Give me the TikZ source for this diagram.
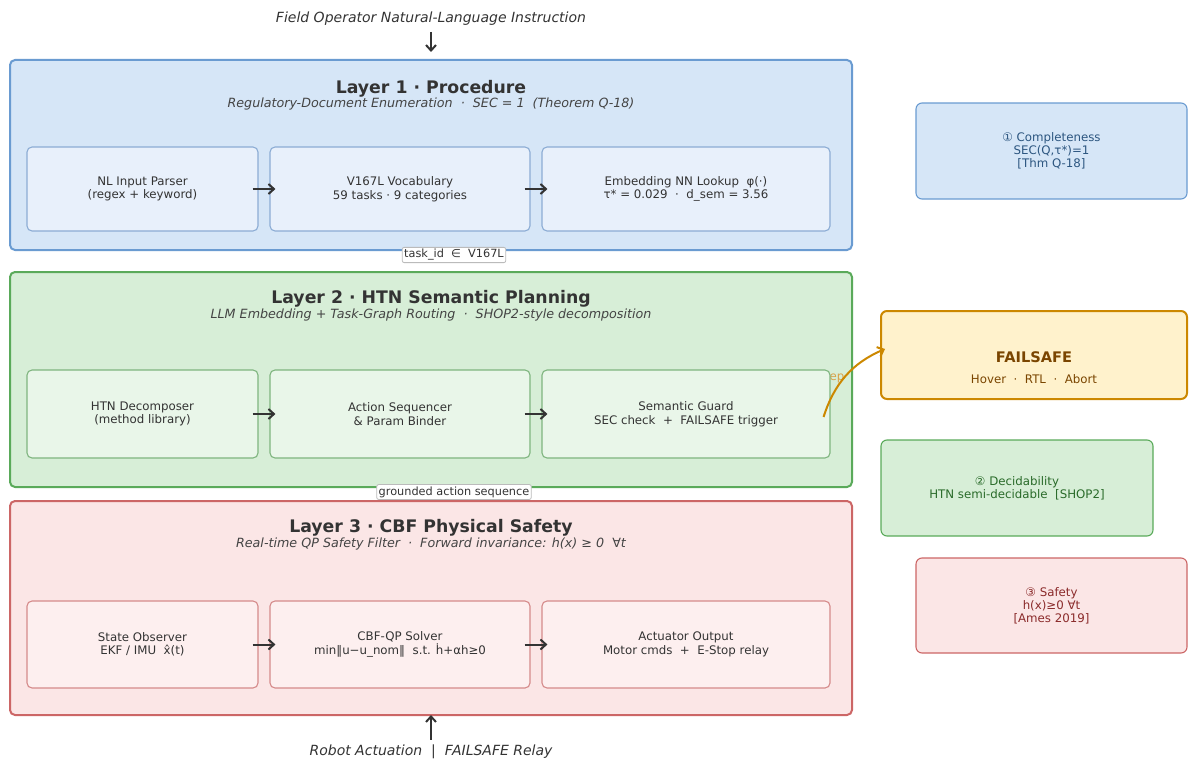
\documentclass[tikz,border=0pt]{standalone}
\usepackage{fontspec}
\setmainfont{DejaVu Sans}
\usetikzlibrary{arrows.meta}
\definecolor{dark}{HTML}{333333}
\definecolor{subc}{HTML}{444444}
\definecolor{Lafill}{HTML}{D6E6F7}\definecolor{Ladraw}{HTML}{6A9BD1}
\definecolor{Iafill}{HTML}{E8F0FB}\definecolor{Iadraw}{HTML}{8CACD4}
\definecolor{Lbfill}{HTML}{D7EED7}\definecolor{Lbdraw}{HTML}{5AAA5A}
\definecolor{Ibfill}{HTML}{E9F6E9}\definecolor{Ibdraw}{HTML}{7FB57F}
\definecolor{Lcfill}{HTML}{FBE6E6}\definecolor{Lcdraw}{HTML}{CC6666}
\definecolor{Icfill}{HTML}{FDEFEF}\definecolor{Icdraw}{HTML}{D58A8A}
\definecolor{Ffill}{HTML}{FFF2CC}\definecolor{Fdraw}{HTML}{CC8800}\definecolor{Ftext}{HTML}{7A4500}
\definecolor{Ctext}{HTML}{2C5680}\definecolor{Dtext}{HTML}{2A6B2A}\definecolor{Stext}{HTML}{8B2B2B}
\definecolor{lblgray}{HTML}{BBBBBB}
\definecolor{eporange}{HTML}{D9A24A}
\newcommand{\fsz}[1]{\fontsize{#1}{#1}\selectfont}
\tikzset{
  layerbox/.style={rectangle, rounded corners=5pt, line width=2pt, inner sep=0pt},
  innerbox/.style={rectangle, rounded corners=5pt, line width=1.1pt, inner sep=0pt, align=center,
     text=dark, font=\fontsize{11.8}{13.5}\selectfont},
  sidebox/.style={rectangle, rounded corners=6pt, line width=1.1pt, inner sep=0pt, align=center,
     font=\fontsize{11.8}{13}\selectfont},
  ltitle/.style={text=dark, font=\bfseries\fsz{17.3}, inner sep=0pt},
  lsub/.style={text=subc, font=\itshape\fsz{12.7}, inner sep=0pt},
  flowlbl/.style={fill=white, draw=lblgray, line width=0.8pt, rounded corners=2pt, inner sep=2pt,
     text=dark, font=\fsz{11.3}},
  tip/.style={-{Straight Barb[length=5.5pt,width=10pt,line width=2pt]}},
  arr/.style={draw=dark, line width=2pt, tip},
  outtext/.style={text=dark, font=\itshape\fsz{14}, inner sep=0pt},
}
\begin{document}
\begin{tikzpicture}[x=1pt,y=-1pt]
\useasboundingbox (0,0) rectangle (1189,760);

% top / bottom texts
\node[outtext] (ti) at (431,19) {Field Operator Natural-Language Instruction};
\node[outtext] (bo) at (431,752) {Robot Actuation \ |\ \ FAILSAFE Relay};

% Layer 1
\node[layerbox, fill=Lafill, draw=Ladraw, minimum width=842, minimum height=190] (L1) at (431,155) {};
\node[ltitle] (t1) at (431,89) {Layer 1 · Procedure};
\node[lsub] (s1) at (431,104) {Regulatory-Document Enumeration \ · \ SEC = 1 \ (Theorem Q-18)};
\node[innerbox, fill=Iafill, draw=Iadraw, minimum width=231, minimum height=84] (a1) at (142.5,189) {NL Input Parser\\(regex + keyword)};
\node[innerbox, fill=Iafill, draw=Iadraw, minimum width=260, minimum height=84] (a2) at (400,189) {V167L Vocabulary\\59 tasks · 9 categories};
\node[innerbox, fill=Iafill, draw=Iadraw, minimum width=288, minimum height=84] (a3) at (686,189) {Embedding NN Lookup \ φ(·)\\τ* = 0.029 \ · \ d\_sem = 3.56};

% Layer 2
\node[layerbox, fill=Lbfill, draw=Lbdraw, minimum width=842, minimum height=215] (L2) at (431,379.5) {};
\node[ltitle] (t2) at (431,299) {Layer 2 · HTN Semantic Planning};
\node[lsub] (s2) at (431,315) {LLM Embedding + Task-Graph Routing \ · \ SHOP2-style decomposition};
\node[text=eporange, font=\fsz{11.8}, inner sep=0pt] (ep) at (837,378) {ep};
\node[innerbox, fill=Ibfill, draw=Ibdraw, minimum width=231, minimum height=88] (b1) at (142.5,414) {HTN Decomposer\\(method library)};
\node[innerbox, fill=Ibfill, draw=Ibdraw, minimum width=260, minimum height=88] (b2) at (400,414) {Action Sequencer\\\& Param Binder};
\node[innerbox, fill=Ibfill, draw=Ibdraw, minimum width=288, minimum height=88] (b3) at (686,414) {Semantic Guard\\SEC check \ + \ FAILSAFE trigger};

% Layer 3
\node[layerbox, fill=Lcfill, draw=Lcdraw, minimum width=842, minimum height=214] (L3) at (431,608) {};
\node[ltitle] (t3) at (431,528) {Layer 3 · CBF Physical Safety};
\node[lsub] (s3) at (431,544) {Real-time QP Safety Filter \ · \ Forward invariance: h(x) ≥ 0 \ ∀t};
\node[innerbox, fill=Icfill, draw=Icdraw, minimum width=231, minimum height=87] (c1) at (142.5,644.5) {State Observer\\EKF / IMU \ x̂(t)};
\node[innerbox, fill=Icfill, draw=Icdraw, minimum width=260, minimum height=87] (c2) at (400,644.5) {CBF-QP Solver\\min‖u−u\_nom‖ \ s.t. ḣ+αh≥0};
\node[innerbox, fill=Icfill, draw=Icdraw, minimum width=288, minimum height=87] (c3) at (686,644.5) {Actuator Output\\Motor cmds \ + \ E-Stop relay};

% flow labels
\node[flowlbl] (f1) at (454,255) {task\_id \ ∈ \ V167L};
\node[flowlbl] (f2) at (454,492) {grounded action sequence};

% side boxes
\node[sidebox, fill=Lafill, draw=Ladraw, text=Ctext, minimum width=271, minimum height=96] (rc) at (1051.5,151) {① Completeness\\SEC(Q,τ*)=1\\{[Thm Q-18]}};
\node[sidebox, fill=Ffill, draw=Fdraw, line width=2pt, text=Ftext, minimum width=306, minimum height=88] (rf) at (1034,355) {};
\node[text=Ftext, font=\bfseries\fsz{14.6}, inner sep=0pt] (rft) at (1034,357) {FAILSAFE};
\node[text=Ftext, font=\fsz{11.8}, inner sep=0pt] (rfs) at (1034,379) {Hover \ · \ RTL \ · \ Abort};
\node[sidebox, fill=Lbfill, draw=Lbdraw, text=Dtext, minimum width=272, minimum height=96] (rd) at (1017,488) {② Decidability\\HTN semi-decidable \ [SHOP2]};
\node[sidebox, fill=Lcfill, draw=Lcdraw, text=Stext, minimum width=271, minimum height=95] (rs) at (1051.5,605.5) {③ Safety\\h(x)≥0 ∀t\\{[Ames 2019]}};

% arrows
\draw[arr] ([yshift=-6pt]ti.south) -- ([yshift=7pt]L1.north);
\draw[arr] ([yshift=5pt]bo.north) -- ([yshift=1pt]L3.south);
\draw[arr] ([xshift=-6pt]a1.east) -- ([xshift=6pt]a2.west);
\draw[arr] ([xshift=-6pt]a2.east) -- ([xshift=6pt]a3.west);
\draw[arr] ([xshift=-6pt]b1.east) -- ([xshift=6pt]b2.west);
\draw[arr] ([xshift=-6pt]b2.east) -- ([xshift=6pt]b3.west);
\draw[arr] ([xshift=-6pt]c1.east) -- ([xshift=6pt]c2.west);
\draw[arr] ([xshift=-6pt]c2.east) -- ([xshift=6pt]c3.west);
\draw[draw=Fdraw, line width=2pt, tip]
  ([xshift=-7pt,yshift=-3pt]b3.east) .. controls (834,384) and (852,363) .. ([xshift=5pt,yshift=6pt]rf.west);
\end{tikzpicture}
\end{document}
